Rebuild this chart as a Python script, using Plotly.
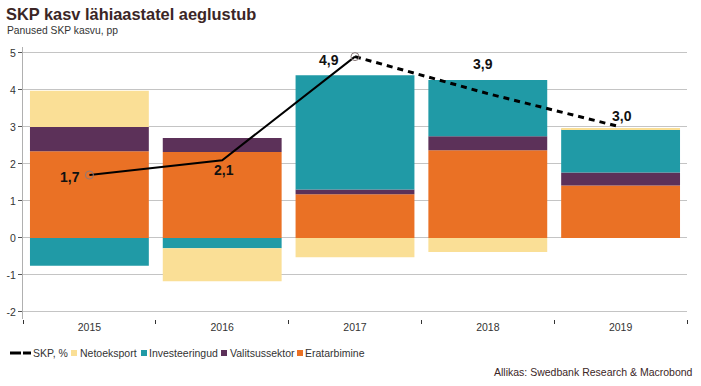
import plotly.graph_objects as go

# ---------------- data ----------------
years = ["2015", "2016", "2017", "2018", "2019"]
eratarbimine = [2.34, 2.32, 1.18, 2.37, 1.42]
valitsussektor = [0.66, 0.38, 0.13, 0.38, 0.35]
investeeringud = [-0.75, -0.28, 3.09, 1.52, 1.17]
netoeksport = [0.98, -0.89, -0.52, -0.38, 0.02]
skp = [1.7, 2.1, 4.9, 3.9, 3.0]
y_ticks = [-2, -1, 0, 1, 2, 3, 4, 5]
y_ticktext = ["-2", "-1", "0", "1", "2", "3", "4", "5"]

series_names = ["Netoeksport", "Investeeringud", "Valitsussektor", "Eratarbimine"]

# ---------------- styles ----------------
W, H = 701, 386
ML, MR, MT, MB = 23, 14, 47, 67
PW, PH = W - ML - MR, H - MT - MB
FONT = "Arial, 'Liberation Sans', sans-serif"
TXT = "#333333"
FS = 10.5
colors = {
    "Eratarbimine": "#EA7125",
    "Valitsussektor": "#5C3159",
    "Investeeringud": "#209AA6",
    "Netoeksport": "#FADF96",
}


def px(x, y):
    """pixel -> paper coords"""
    return (x - ML) / PW, (H - MB - y) / PH


fig = go.Figure()
for name, vals in [("Eratarbimine", eratarbimine), ("Valitsussektor", valitsussektor),
                   ("Investeeringud", investeeringud), ("Netoeksport", netoeksport)]:
    fig.add_trace(go.Bar(x=years, y=vals, name=name, marker_color=colors[name],
                         marker_line_width=0, showlegend=False))

# solid part of GDP line (actual), dashed part (forecast)
fig.add_trace(go.Scatter(x=years[:3], y=skp[:3], mode="lines",
                         line=dict(color="black", width=2), showlegend=False))
fig.add_trace(go.Scatter(x=years[2:], y=skp[2:], mode="lines",
                         line=dict(color="black", width=3, dash="6px,5px"), showlegend=False))
fig.add_trace(go.Scatter(x=[years[0], years[2]], y=[skp[0], skp[2]], mode="markers",
                         marker=dict(symbol="circle-open", size=8, color="#8a7a7a",
                                     line=dict(width=1)), showlegend=False))

# data labels (category index used as x on the category axis)
shifts = [(-19, -2), (2, -10), (-26, -3), (-5, 30), (1, 11)]
for i, (v, (dx, dy)) in enumerate(zip(skp, shifts)):
    fig.add_annotation(x=i, y=v, xref="x", yref="y", text=f"<b>{v:.1f}</b>".replace(".", ","),
                       showarrow=False, xshift=dx, yshift=dy,
                       font=dict(family=FONT, size=14, color="#111111"))

# title / subtitle
fig.update_layout(title=dict(text="<b>SKP kasv lähiaastatel aeglustub</b>",
                             xref="container", yref="container",
                             x=6 / W, y=1 - 14 / H, xanchor="left", yanchor="middle",
                             font=dict(family=FONT, size=16.4, color="#3b2626")))
sx, sy = px(5, 31)
fig.add_annotation(xref="paper", yref="paper", x=sx, y=sy, xanchor="left", yanchor="middle",
                   text="Panused SKP kasvu, pp", showarrow=False,
                   font=dict(family=FONT, size=10.3, color=TXT))

# source
sx, sy = px(695, 372)
fig.add_annotation(xref="paper", yref="paper", x=sx, y=sy, xanchor="right", yanchor="middle",
                   text="Allikas: Swedbank Research & Macrobond", showarrow=False,
                   font=dict(family=FONT, size=FS, color="#3b2626"))

# custom legend
LY = 353
shapes = []
for x0, x1 in [(10, 21), (23, 31)]:
    a, b = px(x0, LY)
    c, _ = px(x1, LY)
    shapes.append(dict(type="line", xref="paper", yref="paper", x0=a, x1=c, y0=b, y1=b,
                       line=dict(color="black", width=3)))
tx, ty = px(31, LY)
fig.add_annotation(xref="paper", yref="paper", x=tx, y=ty, xanchor="left", yanchor="middle",
                   text="SKP, %", showarrow=False, font=dict(family=FONT, size=FS, color=TXT))
legend_x = [(71, 78), (141, 147), (221, 228), (297, 303)]
for name, (sqx, tx_) in zip(series_names, legend_x):
    a, b = px(sqx, LY + 3)
    c, d = px(sqx + 6, LY - 3)
    shapes.append(dict(type="rect", xref="paper", yref="paper", x0=a, x1=c, y0=b, y1=d,
                       fillcolor=colors[name], line=dict(width=0)))
    tx, ty = px(tx_, LY)
    fig.add_annotation(xref="paper", yref="paper", x=tx, y=ty, xanchor="left", yanchor="middle",
                       text=name, showarrow=False, font=dict(family=FONT, size=FS, color=TXT))

fig.update_layout(
    width=W, height=H, margin=dict(l=ML, r=MR, t=MT, b=MB, autoexpand=False),
    barmode="relative", bargap=0.105,
    plot_bgcolor="white", paper_bgcolor="white",
    shapes=shapes, showlegend=False,
    font=dict(family=FONT, size=FS, color=TXT),
)
fig.update_xaxes(type="category", range=[-0.5, 4.5], automargin=False,
                 showgrid=False, showline=False, zeroline=False, tickangle=0,
                 ticks="outside", tickson="boundaries", ticklen=4, tickcolor="#333333",
                 tickfont=dict(family=FONT, size=FS, color=TXT))
fig.update_yaxes(range=[-2.19, 5.16], tickvals=y_ticks, ticktext=y_ticktext, automargin=False,
                 showgrid=True, gridcolor="#c4c4c4", gridwidth=1,
                 zeroline=True, zerolinecolor="#c4c4c4", zerolinewidth=1,
                 showline=True, linecolor="#b0b0b0", linewidth=1,
                 ticks="outside", ticklen=4, tickcolor="#555555",
                 tickfont=dict(family=FONT, size=FS, color=TXT))

fig.write_html("out.html", config={"displayModeBar": False},
               post_script="document.body.style.margin='0';")
